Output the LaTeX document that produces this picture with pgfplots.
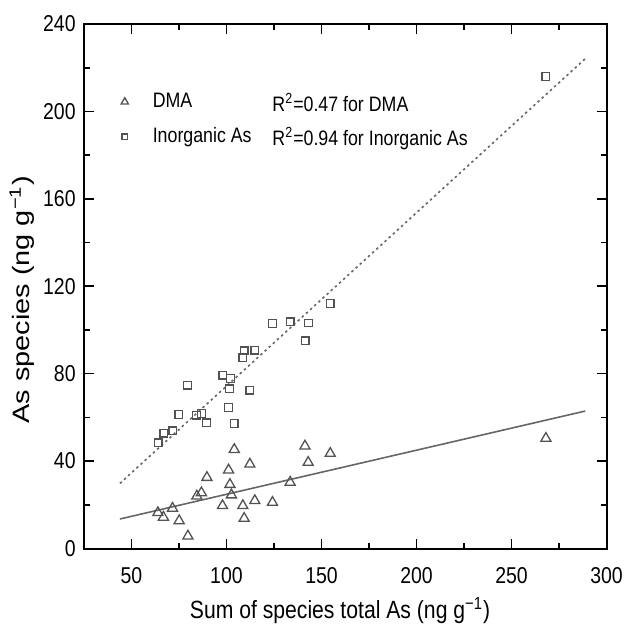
\documentclass[border=0pt]{standalone}
\usepackage{fontspec}
\setmainfont{Liberation Sans}[FakeStretch=0.85]
\newfontfamily\plainsans{Liberation Sans}
\usepackage{graphicx}
\usepackage{pgfplots}
\pgfplotsset{compat=1.18}

\definecolor{markgray}{gray}{0.32}
\definecolor{linegray}{gray}{0.40}

\begin{document}
\begin{tikzpicture}
\begin{axis}[
    name=ax,
    scale only axis,
    width=261.3bp, height=262.3bp,
    xmin=25, xmax=300, ymin=0, ymax=240,
    xtick={50,100,150,200,250,300},
    ytick={0,40,80,120,160,200,240},
    minor x tick num=1, minor y tick num=1,
    tick align=inside,
    major tick length=5bp, minor tick length=3bp,
    axis line style={line width=1bp},
    every tick/.style={black, line width=0.8bp},
    /pgf/number format/assume math mode=true,
    xticklabel style={font=\fontsize{11.5}{13}\selectfont, inner sep=0pt, anchor=north, yshift=-9.25bp},
    yticklabel style={font=\fontsize{11.5}{13}\selectfont, inner sep=0pt, anchor=east, xshift=-4bp},
    xlabel={Sum of species total As (ng g\textsuperscript{−1})},
    ylabel={\scalebox{1}[0.82]{\plainsans\fontsize{14.5}{16}\selectfont As species (ng g\textsuperscript{−1})}},
    xlabel style={font=\fontsize{12.5}{14}\selectfont, at={(rel axis cs:0.49,0)}, anchor=center, yshift=-31bp},
    ylabel style={at={(rel axis cs:0,0.474)}, anchor=center, yshift=31bp},
    legend cell align=left,
    legend image code/.code={\draw[#1, every mark/.append style={scale=0.72}] plot coordinates {(0bp,0bp)};},
    legend style={draw=none, fill=none, at={(rel axis cs:0,1)}, anchor=north west,
        xshift=18.4bp, yshift=-33.5bp, inner sep=0pt, row sep=7bp, column sep=12.2bp,
        font=\fontsize{10.5}{12}\selectfont,
        nodes={inner sep=0pt, text height=8bp, text depth=2.5bp}},
]
\addplot[only marks, mark=triangle, mark size=2.9bp, mark options={draw=markgray, line width=0.65bp}] coordinates {
    (63.9,16.4)(66.8,14.3)(71.6,18.4)(75.1,12.7)(79.7,5.7)(84.4,24.0)(86.8,25.5)(89.7,32.5)
    (97.9,19.6)(101.1,35.9)(101.8,29.3)(102.6,24.5)(104.1,45.3)(108.6,19.6)(109.3,13.8)
    (112.3,38.6)(114.9,21.9)(124.2,21.1)(133.5,30.3)(141.3,46.9)(143.0,39.4)(154.6,43.5)
    (268.1,50.4)
};
\addlegendentry{DMA}
\addplot[only marks, mark=square, mark size=1.9bp, mark options={draw=markgray, line width=0.65bp}] coordinates {
    (64.1,48.4)(67.0,52.7)(71.8,53.9)(74.9,61.3)(79.5,74.7)(84.2,61.0)(86.8,61.8)(89.5,57.5)
    (98.1,79.3)(102.1,77.8)(101.6,73.1)(101.1,64.5)(104.1,57.2)(108.6,87.4)(109.3,90.4)
    (112.3,72.5)(114.9,90.7)(124.2,103.0)(133.5,103.7)(143.2,103.2)(141.4,95.0)(154.6,112.1)
    (268.1,216.0)
};
\addlegendentry{Inorganic As}
% fitted lines
\addplot[forget plot, no marks, linegray, line width=0.8bp] coordinates {(43.9,13.5)(288.8,62.9)};
\addplot[forget plot, no marks, linegray, line width=0.8bp, dash pattern=on 1.2bp off 1.6bp] coordinates {(43.9,29.8)(288.8,224.1)};
\node[anchor=base west, inner sep=0pt, font=\fontsize{10.5}{12}\selectfont] at (axis cs:124,200.0) {R\textsuperscript{2}=0.47 for DMA};
\node[anchor=base west, inner sep=0pt, font=\fontsize{10.5}{12}\selectfont] at (axis cs:124,184.5) {R\textsuperscript{2}=0.94 for Inorganic As};
\end{axis}
\pgfresetboundingbox
\path (ax.south west) ++(-42bp,-40.75bp) rectangle ([shift={(10.2bp,12bp)}]ax.north east);
\end{tikzpicture}
\end{document}
